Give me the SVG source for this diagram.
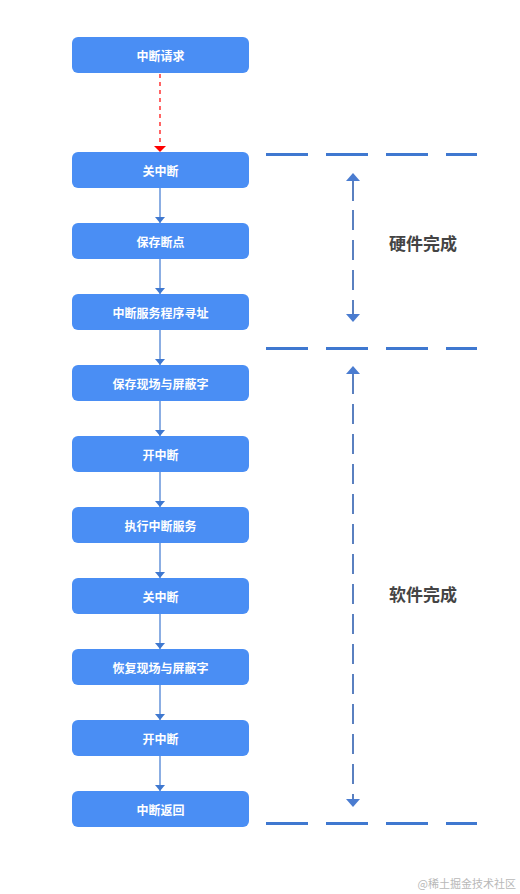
<svg xmlns="http://www.w3.org/2000/svg" width="520" height="894" viewBox="0 0 520 894">
<style>
.box{fill:#4a8ef4;}
.bt{font-family:"Noto Sans CJK SC","Liberation Sans",sans-serif;font-size:12px;font-weight:bold;fill:#ffffff;text-anchor:middle;dominant-baseline:central;}
.conn{stroke:#3f78d0;stroke-width:1.2;fill:none;}
.sep{stroke:#3f78d0;stroke-width:3;stroke-dasharray:42 18;fill:none;}
.span{stroke:#5a80c0;stroke-width:2;stroke-dasharray:20 10;fill:none;}
.lbl{font-family:"Noto Sans CJK SC","Liberation Sans",sans-serif;font-size:17px;font-weight:bold;fill:#444444;}
</style>
<defs>
<marker id="ah" viewBox="0 0 6 10" refX="6" refY="5" markerWidth="6" markerHeight="10" markerUnits="userSpaceOnUse" orient="auto"><path d="M0,0 L6,5 L0,10 Z" fill="#3f78d0"/></marker>
<marker id="ahr" viewBox="0 0 6 12" refX="6" refY="6" markerWidth="6" markerHeight="12" markerUnits="userSpaceOnUse" orient="auto"><path d="M0,0 L6,6 L0,12 Z" fill="#ff0000"/></marker>
</defs>
<rect width="520" height="894" fill="#ffffff"/>
<g id="connectors">
<path d="M160,74 V152" stroke="#ff0000" stroke-width="1.2" stroke-dasharray="4 4" fill="none" marker-end="url(#ahr)"/>
<path class="conn" d="M160,188 V223" marker-end="url(#ah)"/>
<path class="conn" d="M160,259 V294" marker-end="url(#ah)"/>
<path class="conn" d="M160,330 V365" marker-end="url(#ah)"/>
<path class="conn" d="M160,401 V436" marker-end="url(#ah)"/>
<path class="conn" d="M160,472 V507" marker-end="url(#ah)"/>
<path class="conn" d="M160,543 V578" marker-end="url(#ah)"/>
<path class="conn" d="M160,614 V649" marker-end="url(#ah)"/>
<path class="conn" d="M160,685 V720" marker-end="url(#ah)"/>
<path class="conn" d="M160,756 V791" marker-end="url(#ah)"/>
</g>
<g id="separators">
<path class="sep" d="M266,154.5 H477"/>
<path class="sep" d="M266,348.5 H477"/>
<path class="sep" d="M266,823.5 H477"/>
</g>
<g id="spans">
<path class="span" d="M353,181 V201 M353,210 V230 M353,240 V260 M353,270 V290 M353,300 V315"/>
<path d="M346,181 L353,173 L360,181 Z" fill="#4a7cd0"/>
<path d="M346,314 L353,322 L360,314 Z" fill="#4a7cd0"/>
<path class="span" d="M353,374 V800"/>
<path d="M346,374 L353,366 L360,374 Z" fill="#4a7cd0"/>
<path d="M346,799 L353,807 L360,799 Z" fill="#4a7cd0"/>
<text class="lbl" x="389" y="250">硬件完成</text>
<text class="lbl" x="389" y="601">软件完成</text>
</g>
<g id="n0"><rect class="box" x="72" y="37" width="177" height="36" rx="6"/><text class="bt" x="160.5" y="55">中断请求</text></g>
<g id="n1"><rect class="box" x="72" y="152" width="177" height="36" rx="6"/><text class="bt" x="160.5" y="170">关中断</text></g>
<g id="n2"><rect class="box" x="72" y="223" width="177" height="36" rx="6"/><text class="bt" x="160.5" y="241">保存断点</text></g>
<g id="n3"><rect class="box" x="72" y="294" width="177" height="36" rx="6"/><text class="bt" x="160.5" y="312">中断服务程序寻址</text></g>
<g id="n4"><rect class="box" x="72" y="365" width="177" height="36" rx="6"/><text class="bt" x="160.5" y="383">保存现场与屏蔽字</text></g>
<g id="n5"><rect class="box" x="72" y="436" width="177" height="36" rx="6"/><text class="bt" x="160.5" y="454">开中断</text></g>
<g id="n6"><rect class="box" x="72" y="507" width="177" height="36" rx="6"/><text class="bt" x="160.5" y="525">执行中断服务</text></g>
<g id="n7"><rect class="box" x="72" y="578" width="177" height="36" rx="6"/><text class="bt" x="160.5" y="596">关中断</text></g>
<g id="n8"><rect class="box" x="72" y="649" width="177" height="36" rx="6"/><text class="bt" x="160.5" y="667">恢复现场与屏蔽字</text></g>
<g id="n9"><rect class="box" x="72" y="720" width="177" height="36" rx="6"/><text class="bt" x="160.5" y="738">开中断</text></g>
<g id="n10"><rect class="box" x="72" y="791" width="177" height="36" rx="6"/><text class="bt" x="160.5" y="809">中断返回</text></g>
<text x="516" y="888" font-family="Noto Sans CJK SC,Liberation Sans,sans-serif" font-size="11" fill="#b8b8b8" text-anchor="end">@稀土掘金技术社区</text>
</svg>
